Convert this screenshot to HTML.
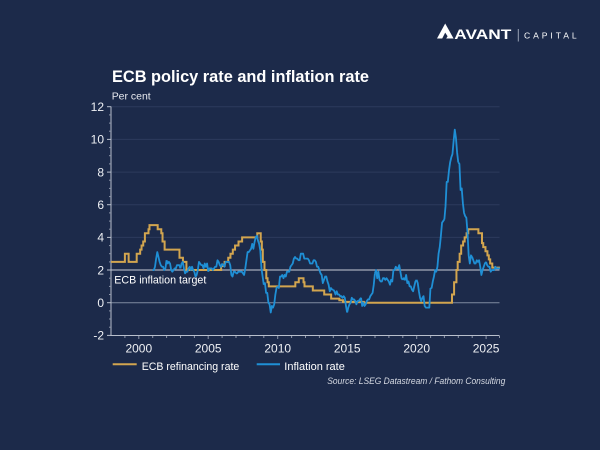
<!DOCTYPE html>
<html><head><meta charset="utf-8">
<style>
html,body{margin:0;padding:0;background:#1c2a4a;}
svg{display:block;font-family:"Liberation Sans",Arial,sans-serif;}
</style></head>
<body>
<svg width="600" height="450" viewBox="0 0 600 450" xmlns="http://www.w3.org/2000/svg">
<rect width="600" height="450" fill="#1c2a4a"/>

<!-- Logo -->
<path d="M437,38.5 L445.2,23.5 L453.6,38.5 Z" fill="#ffffff"/>
<path d="M442.2,38.5 L445.2,32.6 L447.6,36.2 L446.2,38.5 Z" fill="#1c2a4a"/>
<path d="M448.6,38.5 L451,34.6 L453.6,38.5 Z" fill="#1c2a4a" opacity="0"/>
<text x="454.3" y="39" font-size="14" font-weight="bold" fill="#ffffff" textLength="57" lengthAdjust="spacingAndGlyphs">AVANT</text>
<line x1="518.3" y1="29" x2="518.3" y2="41.5" stroke="#9aa2b5" stroke-width="1"/>
<text x="524" y="38.3" font-size="8.6" fill="#ffffff" textLength="52.7" lengthAdjust="spacing">CAPITAL</text>

<!-- Title -->
<text x="112" y="82" font-size="16.4" font-weight="bold" fill="#ffffff" textLength="257" lengthAdjust="spacingAndGlyphs">ECB policy rate and inflation rate</text>
<text x="111.7" y="99.5" font-size="10.5" fill="#e8eaf0" textLength="39" lengthAdjust="spacingAndGlyphs">Per cent</text>

<!-- gridlines -->
<g stroke="#2d3b5c" stroke-width="1">
<line x1="111" y1="106.7" x2="499.5" y2="106.7"/>
<line x1="111" y1="139.4" x2="499.5" y2="139.4"/>
<line x1="111" y1="172.1" x2="499.5" y2="172.1"/>
<line x1="111" y1="204.7" x2="499.5" y2="204.7"/>
<line x1="111" y1="237.4" x2="499.5" y2="237.4"/>
</g>
<line x1="111" y1="302.7" x2="499.5" y2="302.7" stroke="#7f89a0" stroke-width="1"/>
<line x1="111" y1="270" x2="499.5" y2="270" stroke="#c8ccd5" stroke-width="1"/>

<!-- axes -->
<g stroke="#b8bfcc" stroke-width="1">
<line x1="111" y1="106.5" x2="111" y2="336"/>
<line x1="111" y1="335.5" x2="499.5" y2="335.5"/>
<!-- y major ticks -->
<line x1="107" y1="106.7" x2="111" y2="106.7"/>
<line x1="107" y1="139.4" x2="111" y2="139.4"/>
<line x1="107" y1="172.1" x2="111" y2="172.1"/>
<line x1="107" y1="204.7" x2="111" y2="204.7"/>
<line x1="107" y1="237.4" x2="111" y2="237.4"/>
<line x1="107" y1="270" x2="111" y2="270"/>
<line x1="107" y1="302.7" x2="111" y2="302.7"/>
<line x1="107" y1="335.4" x2="111" y2="335.4"/>
</g>
<g stroke="#8c95a8" stroke-width="1">
<!-- y minor ticks every 0.5 -->
<line x1="109" y1="114.9" x2="111" y2="114.9"/><line x1="109" y1="123.1" x2="111" y2="123.1"/><line x1="109" y1="131.2" x2="111" y2="131.2"/>
<line x1="109" y1="147.6" x2="111" y2="147.6"/><line x1="109" y1="155.7" x2="111" y2="155.7"/><line x1="109" y1="163.9" x2="111" y2="163.9"/>
<line x1="109" y1="180.2" x2="111" y2="180.2"/><line x1="109" y1="188.4" x2="111" y2="188.4"/><line x1="109" y1="196.6" x2="111" y2="196.6"/>
<line x1="109" y1="212.9" x2="111" y2="212.9"/><line x1="109" y1="221.1" x2="111" y2="221.1"/><line x1="109" y1="229.2" x2="111" y2="229.2"/>
<line x1="109" y1="245.6" x2="111" y2="245.6"/><line x1="109" y1="253.7" x2="111" y2="253.7"/><line x1="109" y1="261.9" x2="111" y2="261.9"/>
<line x1="109" y1="278.2" x2="111" y2="278.2"/><line x1="109" y1="286.4" x2="111" y2="286.4"/><line x1="109" y1="294.5" x2="111" y2="294.5"/>
<line x1="109" y1="310.9" x2="111" y2="310.9"/><line x1="109" y1="319" x2="111" y2="319"/><line x1="109" y1="327.2" x2="111" y2="327.2"/>
<!-- x ticks every year -->
<line x1="124.9" y1="336" x2="124.9" y2="338"/><line x1="138.8" y1="336" x2="138.8" y2="339"/><line x1="152.7" y1="336" x2="152.7" y2="338"/><line x1="166.6" y1="336" x2="166.6" y2="338"/><line x1="180.5" y1="336" x2="180.5" y2="338"/><line x1="194.4" y1="336" x2="194.4" y2="338"/><line x1="208.2" y1="336" x2="208.2" y2="339"/><line x1="222.1" y1="336" x2="222.1" y2="338"/><line x1="236" y1="336" x2="236" y2="338"/><line x1="249.9" y1="336" x2="249.9" y2="338"/><line x1="263.8" y1="336" x2="263.8" y2="338"/><line x1="277.7" y1="336" x2="277.7" y2="339"/><line x1="291.6" y1="336" x2="291.6" y2="338"/><line x1="305.5" y1="336" x2="305.5" y2="338"/><line x1="319.4" y1="336" x2="319.4" y2="338"/><line x1="333.3" y1="336" x2="333.3" y2="338"/><line x1="347.2" y1="336" x2="347.2" y2="339"/><line x1="361.1" y1="336" x2="361.1" y2="338"/><line x1="375" y1="336" x2="375" y2="338"/><line x1="388.9" y1="336" x2="388.9" y2="338"/><line x1="402.8" y1="336" x2="402.8" y2="338"/><line x1="416.7" y1="336" x2="416.7" y2="339"/><line x1="430.6" y1="336" x2="430.6" y2="338"/><line x1="444.4" y1="336" x2="444.4" y2="338"/><line x1="458.3" y1="336" x2="458.3" y2="338"/><line x1="472.2" y1="336" x2="472.2" y2="338"/><line x1="486.1" y1="336" x2="486.1" y2="339"/><line x1="499.5" y1="336" x2="499.5" y2="338"/>
</g>

<!-- y labels -->
<g font-size="12" fill="#eef0f4" text-anchor="end">
<text x="104" y="111">12</text>
<text x="104" y="143.7">10</text>
<text x="104" y="176.4">8</text>
<text x="104" y="209">6</text>
<text x="104" y="241.7">4</text>
<text x="104" y="274.3">2</text>
<text x="104" y="307">0</text>
<text x="104" y="339.7">-2</text>
</g>
<!-- x labels -->
<g font-size="12" fill="#eef0f4" text-anchor="middle">
<text x="138.8" y="352.3">2000</text>
<text x="208.2" y="352.3">2005</text>
<text x="277.7" y="352.3">2010</text>
<text x="347.2" y="352.3">2015</text>
<text x="416.7" y="352.3">2020</text>
<text x="486.1" y="352.3">2025</text>
</g>

<text x="114.3" y="283.5" font-size="11" fill="#ffffff" textLength="92" lengthAdjust="spacingAndGlyphs">ECB inflation target</text>

<!-- ECB refinancing rate -->
<g transform="translate(111,302.7) scale(13.89,-16.33)">
<path fill="none" stroke="#d2a54f" stroke-width="2" vector-effect="non-scaling-stroke" stroke-linejoin="miter"
d="M0,2.5 H1 V3 H1.27 V2.5 H1.85 V3 H2.1 V3.25 H2.2 V3.5 H2.32 V3.75 H2.44 V4.25 H2.7 V4.5 H2.77 V4.75 H3.36 V4.5 H3.62 V4.25 H3.71 V3.75 H3.86 V3.25 H4.93 V2.75 H5.18 V2.5 H5.43 V2 H7.93 V2.25 H8.18 V2.5 H8.44 V2.75 H8.6 V3 H8.77 V3.25 H8.93 V3.5 H9.18 V3.75 H9.44 V4 H10.53 V4.25 H10.78 V3.75 H10.86 V3.25 H10.93 V2.5 H11.05 V2 H11.18 V1.5 H11.27 V1.25 H11.36 V1 H13.27 V1.25 H13.52 V1.5 H13.86 V1.25 H13.93 V1 H14.53 V0.75 H15.35 V0.5 H15.85 V0.25 H16.44 V0.15 H16.7 V0.05 H18.2 V0 H24.55 V0.5 H24.7 V1.25 H24.87 V2 H24.96 V2.5 H25.1 V3 H25.21 V3.5 H25.35 V3.75 H25.46 V4 H25.6 V4.25 H25.72 V4.5 H26.45 V4.25 H26.71 V3.65 H26.8 V3.4 H26.96 V3.15 H27.1 V2.9 H27.2 V2.65 H27.3 V2.4 H27.45 V2.15 H28"/>
</g>

<!-- Inflation rate -->
<g transform="translate(152.67,302.7) scale(1.1575,-16.33)" fill="none" stroke="#1f8fd5" stroke-width="1.8" stroke-linejoin="round">
<polyline vector-effect="non-scaling-stroke" points="0,2.0 1,2.0 2,2.2 3,2.7 4,3.1 5,2.8 6,2.5 7,2.3 8,2.2 9,2.2 10,2.0 11,2.1 12,2.6"/>
<polyline vector-effect="non-scaling-stroke" transform="translate(12,0)" points="0,2.6 1,2.4 2,2.5 3,2.4 4,2.0 5,1.9 6,2.0 7,2.1 8,2.1 9,2.3 10,2.3 11,2.3 12,2.1"/>
<polyline vector-effect="non-scaling-stroke" transform="translate(24,0)" points="0,2.1 1,2.4 2,2.5 3,2.1 4,1.8 5,1.9 6,1.9 7,2.1 8,2.2 9,2.0 10,2.2 11,2.0 12,1.9"/>
<polyline vector-effect="non-scaling-stroke" transform="translate(36,0)" points="0,1.9 1,1.6 2,1.7 3,2.0 4,2.5 5,2.4 6,2.3 7,2.3 8,2.1 9,2.4 10,2.2 11,2.4 12,1.9"/>
<polyline vector-effect="non-scaling-stroke" transform="translate(48,0)" points="0,1.9 1,2.1 2,2.1 3,2.1 4,2.0 5,2.1 6,2.2 7,2.2 8,2.6 9,2.5 10,2.3 11,2.2 12,2.4"/>
<polyline vector-effect="non-scaling-stroke" transform="translate(60,0)" points="0,2.4 1,2.3 2,2.2 3,2.5 4,2.5 5,2.5 6,2.5 7,2.3 8,1.7 9,1.6 10,1.9 11,1.9 12,1.8"/>
<polyline vector-effect="non-scaling-stroke" transform="translate(72,0)" points="0,1.8 1,1.8 2,1.9 3,1.9 4,1.9 5,1.9 6,1.8 7,1.7 8,2.1 9,2.6 10,3.1 11,3.1 12,3.2"/>
<polyline vector-effect="non-scaling-stroke" transform="translate(84,0)" points="0,3.2 1,3.3 2,3.6 3,3.3 4,3.7 5,4.0 6,4.1 7,3.8 8,3.6 9,3.2 10,2.1 11,1.6 12,1.1"/>
<polyline vector-effect="non-scaling-stroke" transform="translate(96,0)" points="0,1.1 1,1.2 2,0.6 3,0.6 4,0.0 5,-0.1 6,-0.6 7,-0.2 8,-0.3 9,-0.1 10,0.5 11,0.9 12,1.0"/>
<polyline vector-effect="non-scaling-stroke" transform="translate(108,0)" points="0,1.0 1,0.9 2,1.6 3,1.6 4,1.7 5,1.5 6,1.7 7,1.6 8,1.9 9,1.9 10,1.9 11,2.2 12,2.3"/>
<polyline vector-effect="non-scaling-stroke" transform="translate(120,0)" points="0,2.3 1,2.4 2,2.7 3,2.8 4,2.7 5,2.7 6,2.6 7,2.6 8,3.0 9,3.0 10,3.0 11,2.7 12,2.7"/>
<polyline vector-effect="non-scaling-stroke" transform="translate(132,0)" points="0,2.7 1,2.7 2,2.7 3,2.6 4,2.4 5,2.4 6,2.4 7,2.6 8,2.6 9,2.5 10,2.2 11,2.2 12,2.0"/>
<polyline vector-effect="non-scaling-stroke" transform="translate(144,0)" points="0,2.0 1,1.8 2,1.7 3,1.2 4,1.4 5,1.6 6,1.6 7,1.3 8,1.1 9,0.7 10,0.9 11,0.8 12,0.8"/>
<polyline vector-effect="non-scaling-stroke" transform="translate(156,0)" points="0,0.8 1,0.7 2,0.5 3,0.7 4,0.5 5,0.5 6,0.4 7,0.4 8,0.3 9,0.4 10,0.3 11,-0.2 12,-0.6"/>
<polyline vector-effect="non-scaling-stroke" transform="translate(168,0)" points="0,-0.6 1,-0.3 2,-0.1 3,0.0 4,0.3 5,0.2 6,0.2 7,0.1 8,-0.1 9,0.1 10,0.1 11,0.2 12,0.3"/>
<polyline vector-effect="non-scaling-stroke" transform="translate(180,0)" points="0,0.3 1,-0.2 2,0.0 3,-0.2 4,-0.1 5,0.1 6,0.2 7,0.2 8,0.4 9,0.5 10,0.6 11,1.1 12,1.8"/>
<polyline vector-effect="non-scaling-stroke" transform="translate(192,0)" points="0,1.8 1,2.0 2,1.5 3,1.9 4,1.4 5,1.3 6,1.3 7,1.5 8,1.5 9,1.4 10,1.5 11,1.4 12,1.3"/>
<polyline vector-effect="non-scaling-stroke" transform="translate(204,0)" points="0,1.3 1,1.1 2,1.4 3,1.3 4,2.0 5,2.0 6,2.2 7,2.1 8,2.1 9,2.3 10,1.9 11,1.5 12,1.4"/>
<polyline vector-effect="non-scaling-stroke" transform="translate(216,0)" points="0,1.4 1,1.5 2,1.4 3,1.7 4,1.2 5,1.3 6,1.0 7,1.0 8,0.8 9,0.7 10,1.0 11,1.3 12,1.4"/>
<polyline vector-effect="non-scaling-stroke" transform="translate(228,0)" points="0,1.4 1,1.2 2,0.7 3,0.3 4,0.1 5,0.3 6,0.4 7,-0.2 8,-0.3 9,-0.3 10,-0.3 11,-0.3 12,0.9"/>
<polyline vector-effect="non-scaling-stroke" transform="translate(240,0)" points="0,0.9 1,0.9 2,1.3 3,1.6 4,2.0 5,1.9 6,2.2 7,3.0 8,3.4 9,4.1 10,4.9 11,5.0 12,5.1"/>
<polyline vector-effect="non-scaling-stroke" transform="translate(252,0)" points="0,5.1 1,5.9 2,7.4 3,7.4 4,8.1 5,8.6 6,8.9 7,9.1 8,9.9 9,10.6 10,10.1 11,9.2 12,8.6"/>
<polyline vector-effect="non-scaling-stroke" transform="translate(264,0)" points="0,8.6 1,8.5 2,6.9 3,7.0 4,6.1 5,5.5 6,5.3 7,5.2 8,4.3 9,2.9 10,2.4 11,2.9 12,2.8"/>
<polyline vector-effect="non-scaling-stroke" transform="translate(276,0)" points="0,2.8 1,2.6 2,2.4 3,2.4 4,2.6 5,2.5 6,2.6 7,2.2 8,1.7 9,2.0 10,2.2 11,2.4 12,2.5"/>
<polyline vector-effect="non-scaling-stroke" transform="translate(288,0)" points="0,2.5 1,2.3 2,2.2 3,2.2 4,1.9 5,2.0 6,2.0 7,2.0 8,2.2 9,2.1 10,2.1 11,2.1 12,2.1"/>
</g>

<!-- Legend -->
<line x1="112.7" y1="364.3" x2="136.7" y2="364.3" stroke="#d2a54f" stroke-width="2"/>
<text x="141.7" y="370" font-size="11" fill="#ffffff" textLength="97.6" lengthAdjust="spacingAndGlyphs">ECB refinancing rate</text>
<line x1="256.7" y1="364.3" x2="280" y2="364.3" stroke="#1f8fd5" stroke-width="2"/>
<text x="284.3" y="370" font-size="11" fill="#ffffff">Inflation rate</text>

<text x="327.3" y="384" font-size="9" font-style="italic" fill="#d5d9e2" textLength="178" lengthAdjust="spacingAndGlyphs">Source: LSEG Datastream / Fathom Consulting</text>
</svg>
</body></html>
